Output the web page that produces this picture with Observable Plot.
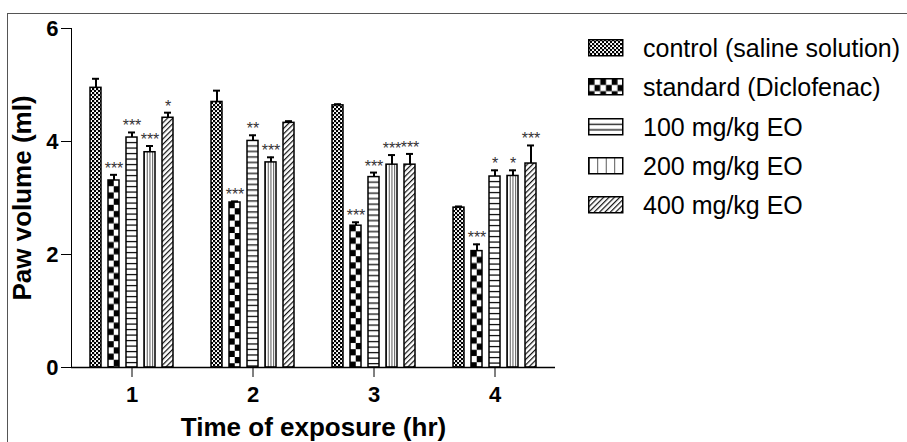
<!DOCTYPE html>
<html>
<head>
<meta charset="utf-8">
<script src="https://cdn.jsdelivr.net/npm/d3@7"></script>
<script src="https://cdn.jsdelivr.net/npm/@observablehq/plot@0.6"></script>
<style>
  html, body { margin: 0; padding: 0; background: white; overflow: hidden; }
  #wrap { position: relative; width: 907px; height: 442px; overflow: hidden; }
  #frame { position: absolute; left: 7px; top: 13px; width: 1200px; height: 1200px;
           border-left: 1.5px solid #555; border-top: 1.5px solid #555; pointer-events: none; }
  .lg-row { position: absolute; height: 30px; display: flex; align-items: center; white-space: nowrap; }
  .lg-text { font-family: "Liberation Sans", Arial, sans-serif; font-size: 25px; line-height: 30px; color: black; }
</style>
</head>
<body>
<div id="wrap"></div>
<script>
// ---- data ----
const times = [1, 2, 3, 4];
const treatments = ["control (saline solution)", "standard (Diclofenac)", "100 mg/kg EO", "200 mg/kg EO", "400 mg/kg EO"];
const controlMean  = [4.95, 4.70, 4.64, 2.83];
const standardMean = [3.31, 2.92, 2.51, 2.06];
const eo100Mean    = [4.07, 4.01, 3.37, 3.38];
const eo200Mean    = [3.81, 3.63, 3.59, 3.39];
const eo400Mean    = [4.42, 4.33, 3.59, 3.61];
const controlSem  = [0.16, 0.20, 0.02, 0.02];
const standardSem = [0.10, 0.02, 0.06, 0.12];
const eo100Sem    = [0.09, 0.10, 0.08, 0.11];
const eo200Sem    = [0.11, 0.09, 0.17, 0.10];
const eo400Sem    = [0.09, 0.03, 0.19, 0.32];
const controlSig  = ["", "", "", ""];
const standardSig = ["***", "***", "***", "***"];
const eo100Sig    = ["***", "**", "***", "*"];
const eo200Sig    = ["***", "***", "***", "*"];
const eo400Sig    = ["*", "", "***", "***"];
const yTicks = [0, 2, 4, 6];

const means = [controlMean, standardMean, eo100Mean, eo200Mean, eo400Mean];
const sems = [controlSem, standardSem, eo100Sem, eo200Sem, eo400Sem];
const sigs = [controlSig, standardSig, eo100Sig, eo200Sig, eo400Sig];

const rows = [];
times.forEach((t, ti) => treatments.forEach((tr, k) => {
  rows.push({time: t, treatment: tr, value: means[k][ti], sem: sems[k][ti], sig: sigs[k][ti]});
}));

const patternIds = treatments.map((_, i) => `pat${i}`);
const patternUrls = patternIds.map(id => `url(#${id})`);

const chart = Plot.plot({
  width: 907,
  height: 442,
  marginLeft: 71,
  marginRight: 352,
  marginTop: 28,
  marginBottom: 75,
  style: {fontFamily: "'Liberation Sans', Arial, sans-serif", fontSize: "22px", fontWeight: "bold", color: "black", background: "white"},
  fx: {domain: times, padding: 0, tickSize: 10, tickPadding: 9, label: "Time of exposure (hr)", labelAnchor: "center", labelOffset: 68},
  x: {domain: treatments, paddingInner: 0.37, paddingOuter: 1.0, axis: null},
  y: {domain: [0, 6], ticks: yTicks, tickFormat: d => String(d), tickSize: 10, tickPadding: 3, line: true,
      label: "Paw volume (ml)", labelArrow: "none", labelAnchor: "center", labelOffset: 59},
  color: {domain: treatments, range: patternUrls},
  marks: [
    Plot.barY(rows, {fx: "time", x: "treatment", y: "value", fill: "treatment", stroke: "black", strokeWidth: 1.5}),
    Plot.ruleX(rows, {fx: "time", x: "treatment", y1: "value", y2: d => d.value + d.sem, stroke: "black", strokeWidth: 2}),
    Plot.tickY(rows, {fx: "time", x: "treatment", y: d => d.value + d.sem, stroke: "black", strokeWidth: 2, insetLeft: 2, insetRight: 2}),
    Plot.text(rows.filter(d => d.sig), {fx: "time", x: "treatment", y: d => d.value + d.sem, text: "sig", lineAnchor: "bottom", dy: -1, fontSize: 16, fontWeight: "normal", fill: "#333"}),
    Plot.ruleY([0], {stroke: "black", strokeWidth: 1.5})
  ]
});

// axis text styling + strip any automatic label arrow
const root = d3.select(chart);
root.selectAll("g[aria-label]").each(function() {
  const name = this.getAttribute("aria-label");
  if (/axis tick label/.test(name)) {
    d3.select(this).style("font-size", "22px").style("font-weight", "bold");
    d3.select(this).selectAll("text").style("font-size", "22px").style("font-weight", "bold");
  } else if (/axis label/.test(name)) {
    d3.select(this).style("font-size", "26px").style("font-weight", "bold");
    d3.select(this).selectAll("text").style("font-size", "26px").style("font-weight", "bold");
  }
});
root.selectAll('g[aria-label="y-axis label"] text, g[aria-label="y-axis label"] tspan').each(function() {
  if (this.childElementCount === 0) this.textContent = this.textContent.replace(/[↑↓]\s*/g, "");
});

// ---- fill patterns ----
function addPatterns(svgNode) {
  const svg = d3.select(svgNode);
  let defs = svg.select("defs");
  if (defs.empty()) defs = svg.insert("defs", ":first-child");
  // control: fine checker
  const p0 = defs.append("pattern").attr("id", "pat0").attr("patternUnits", "userSpaceOnUse").attr("width", 4).attr("height", 4);
  p0.append("rect").attr("width", 4).attr("height", 4).attr("fill", "white");
  p0.append("rect").attr("width", 2.2).attr("height", 2.2).attr("fill", "black");
  p0.append("rect").attr("x", 2).attr("y", 2).attr("width", 2.2).attr("height", 2.2).attr("fill", "black");
  // standard: large checker anchored at each bar's top-left
  const p1 = defs.append("pattern").attr("id", "pat1").attr("patternUnits", "objectBoundingBox").attr("width", 1).attr("height", 1);
  p1.append("rect").attr("width", 100).attr("height", 500).attr("fill", "white");
  for (let r = 0; r < 70; r++) for (let c = 0; c < 8; c++) {
    if ((r + c) % 2 === 0) p1.append("rect").attr("x", c * 5.75).attr("y", r * 6.2).attr("width", 5.75).attr("height", 6.2).attr("fill", "black");
  }
  // 100 mg: horizontal lines
  const p2 = defs.append("pattern").attr("id", "pat2").attr("patternUnits", "objectBoundingBox").attr("width", 1).attr("height", 1);
  p2.append("rect").attr("width", 100).attr("height", 500).attr("fill", "white");
  for (let k = 1; k < 80; k++) p2.append("rect").attr("x", 0).attr("y", k * 5.5 - 0.6).attr("width", 100).attr("height", 1.3).attr("fill", "#111");
  // 200 mg: vertical lines (4 columns per bar)
  const p3 = defs.append("pattern").attr("id", "pat3").attr("patternUnits", "objectBoundingBox").attr("width", 0.25).attr("height", 1);
  p3.append("rect").attr("width", 100).attr("height", 500).attr("fill", "white");
  p3.append("rect").attr("x", -0.6).attr("width", 1.3).attr("height", 500).attr("fill", "#111");
  // 400 mg: diagonal hatch
  const p4 = defs.append("pattern").attr("id", "pat4").attr("patternUnits", "userSpaceOnUse").attr("width", 3.8).attr("height", 3.8).attr("patternTransform", "rotate(45)");
  p4.append("rect").attr("width", 3.8).attr("height", 3.8).attr("fill", "white");
  p4.append("rect").attr("width", 1.2).attr("height", 3.8).attr("fill", "#111");
}

const wrap = document.getElementById("wrap");
wrap.appendChild(chart);
addPatterns(chart);

// ---- legend (right side) ----
treatments.forEach((tr, i) => {
  const cy = 48 + i * 39.3;
  const row = document.createElement("div");
  row.className = "lg-row";
  row.style.left = "588px";
  row.style.top = (cy - 15) + "px";
  const sw = d3.create("svg").attr("width", 36).attr("height", 18).style("display", "block");
  sw.append("rect").attr("x", 0.75).attr("y", 0.75).attr("width", 34).attr("height", 16)
    .attr("fill", patternUrls[i]).attr("stroke", "black").attr("stroke-width", 1.5);
  row.appendChild(sw.node());
  const tx = document.createElement("span");
  tx.className = "lg-text";
  tx.style.marginLeft = "19px";
  tx.textContent = tr;
  row.appendChild(tx);
  wrap.appendChild(row);
});

const frame = document.createElement("div");
frame.id = "frame";
wrap.appendChild(frame);
</script>
</body>
</html>
